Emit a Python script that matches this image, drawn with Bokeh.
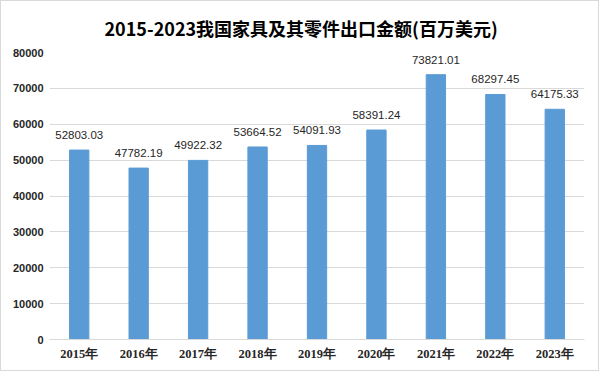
from bokeh.plotting import figure
from bokeh.models import ColumnDataSource, FixedTicker, NumeralTickFormatter
from bokeh.core.properties import value
from bokeh.embed import file_html
from bokeh.resources import INLINE

years = ["2015年", "2016年", "2017年", "2018年", "2019年", "2020年", "2021年", "2022年", "2023年"]
amounts = [52803.03, 47782.19, 49922.32, 53664.52, 54091.93, 58391.24, 73821.01, 68297.45, 64175.33]
amount_labels = ["52803.03", "47782.19", "49922.32", "53664.52", "54091.93", "58391.24", "73821.01", "68297.45", "64175.33"]
y_ticks = [0, 10000, 20000, 30000, 40000, 50000, 60000, 70000, 80000]

source = ColumnDataSource(dict(year=years, amount=amounts, label=amount_labels))

p = figure(
    x_range=years, y_range=(0, 80000),
    width=599, height=371,
    output_backend="svg", toolbar_location=None,
    min_border_left=48, min_border_right=16, min_border_bottom=33, min_border_top=51,
)
p.title.text = "2015-2023我国家具及其零件出口金额(百万美元)"
p.title.align = "left"
p.title.text_font = "Noto Sans CJK SC"
p.title.text_font_style = "bold"
p.title.text_font_size = "18px"
p.title.text_color = "#000000"
p.title.offset = 55
p.title.standoff = 23

p.vbar(x="year", top="amount", width=0.325, source=source, color="#5B9BD5")
p.text(x="year", y="amount", text="label", source=source, y_offset=-15,
       text_align="center", text_baseline="middle",
       text_font=value("Liberation Sans"), text_font_size="11.5px", text_color="#262626")

p.outline_line_color = None
p.background_fill_color = "white"
p.border_fill_color = "white"

p.xgrid.grid_line_color = None
p.ygrid.grid_line_color = "#D9D9D9"
p.ygrid.grid_line_width = 1

p.yaxis.ticker = FixedTicker(ticks=y_ticks)
p.yaxis.formatter = NumeralTickFormatter(format="0")
p.yaxis.axis_line_color = None
p.yaxis.major_tick_line_color = None
p.yaxis.minor_tick_line_color = None
p.yaxis.major_tick_out = 0
p.yaxis.major_label_standoff = 6
p.yaxis.major_label_text_font = "Liberation Sans"
p.yaxis.major_label_text_font_style = "bold"
p.yaxis.major_label_text_font_size = "11px"
p.yaxis.major_label_text_color = "#262626"

p.xaxis.axis_line_color = "#D9D9D9"
p.xaxis.major_tick_line_color = None
p.xaxis.minor_tick_line_color = None
p.xaxis.major_tick_out = 0
p.xaxis.major_tick_in = 0
p.xaxis.axis_label_standoff = 0
p.xaxis.major_label_standoff = 7
p.xaxis.major_label_text_font = "Liberation Serif"
p.xaxis.major_label_text_font_style = "bold"
p.xaxis.major_label_text_font_size = "12.5px"
p.xaxis.major_label_text_color = "#262626"

p.x_range.range_padding = 0
p.styles = {"border": "1px solid #D9D9D9", "box-sizing": "border-box"}

open("out.html", "w").write(file_html(p, INLINE))
